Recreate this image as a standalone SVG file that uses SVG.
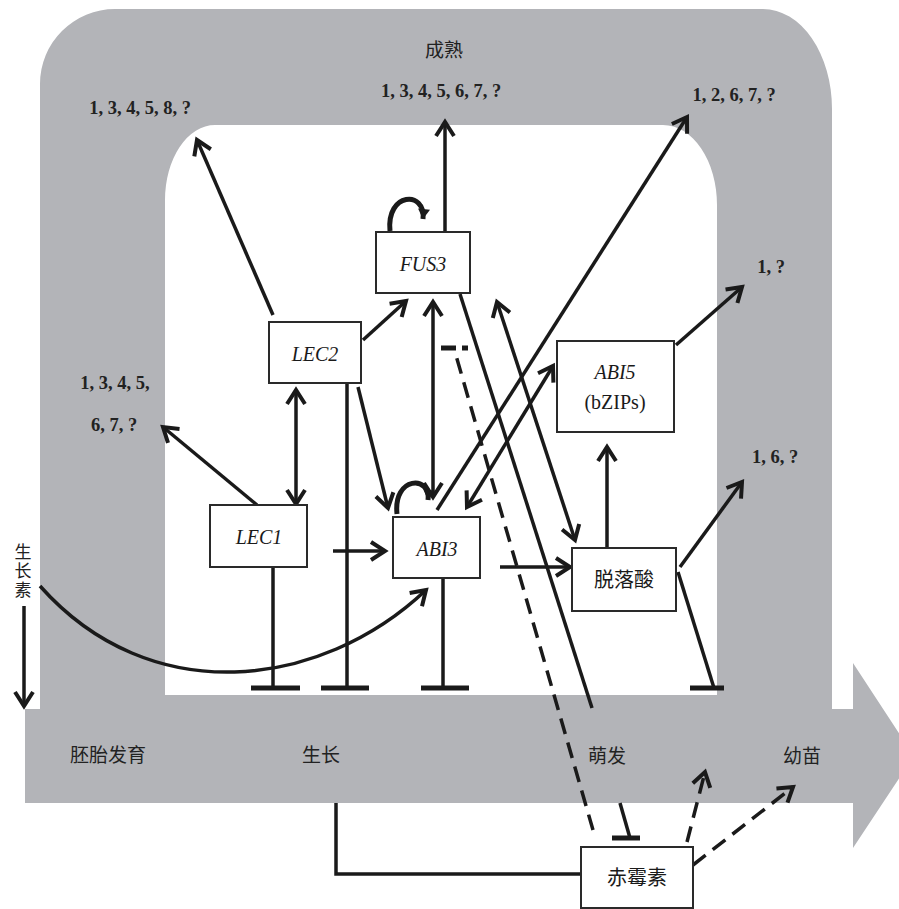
<svg xmlns="http://www.w3.org/2000/svg" width="899" height="909" viewBox="0 0 899 909">
<style>
.band{fill:#b3b4b8;fill-rule:evenodd}
.box{fill:#fff;stroke:#2a2a2a;stroke-width:2}
.ln{fill:none;stroke:#1a1a1a;stroke-width:3.5}
.dash{fill:none;stroke:#1a1a1a;stroke-width:3.5;stroke-dasharray:16 9}
.bar{fill:none;stroke:#1a1a1a;stroke-width:5}
.loop{fill:none;stroke:#1a1a1a;stroke-width:5}
.num{font-family:"Liberation Serif","Times New Roman",serif;font-weight:bold;font-size:18.5px;fill:#222}
.gene{font-family:"Liberation Serif","Times New Roman",serif;font-style:italic;font-size:20px;fill:#1a1a1a}
.rom{font-family:"Liberation Serif","Times New Roman",serif;font-size:20px;fill:#1a1a1a}
.cn{font-family:"Noto Sans CJK SC","Noto Sans",sans-serif;font-size:19px;fill:#222}
.cnv{font-family:"Noto Sans CJK SC","Noto Sans",sans-serif;font-size:17px;fill:#222;writing-mode:vertical-rl;letter-spacing:2px}
.cnb{font-family:"Noto Sans CJK SC","Noto Sans",sans-serif;font-size:20px;fill:#1a1a1a}
</style>
<defs>
<marker id="ah" markerUnits="userSpaceOnUse" markerWidth="26" markerHeight="26" viewBox="0 0 26 26" refX="20" refY="12" orient="auto-start-reverse">
<path d="M6,3 L20,12 L6,21" fill="none" stroke="#1a1a1a" stroke-width="4" stroke-linejoin="miter"/>
</marker>
<marker id="lh" markerUnits="userSpaceOnUse" markerWidth="14" markerHeight="14" viewBox="0 0 14 14" refX="12" refY="7" orient="auto">
<path d="M2,1 L12,7 L2,13 Z" fill="#1a1a1a"/>
</marker>
</defs>

<path class="band" d="M25,709 L40,709 L40,84 A75,75 0 0 1 115,9 L763,9 A69,100 0 0 1 832,109 L832,709 L853,709 L853,663 L914,756 L853,848 L853,803 L25,803 Z M165,695 L717,695 L717,205 A54,80 0 0 0 663,125 L215,125 A50,75 0 0 0 165,200 Z"/>

<g id="stage-labels">
<text class="cn" x="444" y="57" text-anchor="middle">成熟</text>
<text class="cn" x="108" y="762" text-anchor="middle">胚胎发育</text>
<text class="cn" x="321" y="762" text-anchor="middle">生长</text>
<text class="cn" x="607" y="763" text-anchor="middle">萌发</text>
<text class="cn" x="802" y="763" text-anchor="middle">幼苗</text>
<text class="cnv" x="23" y="543">生长素</text>
</g>

<g id="target-labels">
<text class="num" x="140" y="114" text-anchor="middle">1, 3, 4, 5, 8, ?</text>
<text class="num" x="441" y="97" text-anchor="middle">1, 3, 4, 5, 6, 7, ?</text>
<text class="num" x="734" y="101" text-anchor="middle">1, 2, 6, 7, ?</text>
<text class="num" x="771" y="273" text-anchor="middle">1, ?</text>
<text class="num" x="115" y="389" text-anchor="middle">1, 3, 4, 5,</text>
<text class="num" x="114" y="431" text-anchor="middle">6, 7, ?</text>
<text class="num" x="775" y="463" text-anchor="middle">1, 6, ?</text>
</g>

<g id="connectors">
<path class="ln" d="M273,315 L197,140" marker-end="url(#ah)"/>
<path class="ln" d="M445,232 L445,122" marker-end="url(#ah)"/>
<path class="ln" d="M437,510 L687,117" marker-end="url(#ah)"/>
<path class="ln" d="M676,345 L742,287" marker-end="url(#ah)"/>
<path class="ln" d="M680,567 L742,482" marker-end="url(#ah)"/>
<path class="ln" d="M257,505 L163,427" marker-end="url(#ah)"/>
<path class="ln" d="M296,390 L296,504" marker-start="url(#ah)" marker-end="url(#ah)"/>
<path class="ln" d="M363,340 L406,301" marker-end="url(#ah)"/>
<path class="ln" d="M358,387 L388,508" marker-end="url(#ah)"/>
<path class="ln" d="M433,302 L433,497" marker-start="url(#ah)" marker-end="url(#ah)"/>
<path class="ln" d="M467,507 L553,366" marker-start="url(#ah)" marker-end="url(#ah)"/>
<path class="ln" d="M497,302 L575,540" marker-start="url(#ah)" marker-end="url(#ah)"/>
<path class="ln" d="M500,567 L570,567" marker-end="url(#ah)"/>
<path class="ln" d="M607,548 L607,447" marker-end="url(#ah)"/>
<path class="ln" d="M333,551 L385,551" marker-end="url(#ah)"/>
<path class="ln" d="M460,294 L592,708"/>
<path class="ln" d="M40,586 C150,710 320,690 426,590" marker-end="url(#ah)"/>
<path class="ln" d="M24,606 L24,706" marker-end="url(#ah)"/>
<path class="loop" d="M390,231 C386,192 426,190 423,219" marker-end="url(#lh)"/>
<path class="loop" d="M397,514 C393,476 431,475 428,500" marker-end="url(#lh)"/>
<path class="ln" d="M273,567 L273,688"/>
<path class="bar" d="M251,688 L300,688"/>
<path class="ln" d="M347,383 L347,688"/>
<path class="bar" d="M321,688 L369,688"/>
<path class="ln" d="M443,578 L443,688"/>
<path class="bar" d="M421,688 L469,688"/>
<path class="ln" d="M678,572 L714,688"/>
<path class="bar" d="M690,688 L724,688"/>
<path class="dash" d="M593,830 L455,352"/>
<path class="bar" d="M441,348 L456,348 M462,348 L468,348"/>
<path class="ln" d="M620,803 L630,838"/>
<path class="bar" d="M612,838 L640,838"/>
<path class="ln" d="M336,803 L336,874 L581,874"/>
<path class="dash" d="M687,842 L705,772" marker-end="url(#ah)"/>
<path class="dash" d="M693,865 L793,787" marker-end="url(#ah)"/>
</g>

<g id="FUS3">
<rect class="box" x="376" y="232" width="94" height="61"/>
<text class="gene" x="423" y="271" text-anchor="middle">FUS3</text>
</g>
<g id="LEC2">
<rect class="box" x="269" y="322" width="92" height="61"/>
<text class="gene" x="315" y="361" text-anchor="middle">LEC2</text>
</g>
<g id="LEC1">
<rect class="box" x="210" y="505" width="97" height="62"/>
<text class="gene" x="259" y="544" text-anchor="middle">LEC1</text>
</g>
<g id="ABI3">
<rect class="box" x="393" y="517" width="87" height="61"/>
<text class="gene" x="437" y="556" text-anchor="middle">ABI3</text>
</g>
<g id="ABI5">
<rect class="box" x="557" y="341" width="117" height="91"/>
<text class="gene" x="615" y="379" text-anchor="middle">ABI5</text>
<text class="rom" x="615" y="409" text-anchor="middle">(bZIPs)</text>
</g>
<g id="ABA">
<rect class="box" x="572" y="548" width="104" height="63"/>
<text class="cnb" x="624" y="587" text-anchor="middle">脱落酸</text>
</g>
<g id="GA">
<rect class="box" x="581" y="847" width="112" height="61"/>
<text class="cnb" x="637" y="885" text-anchor="middle">赤霉素</text>
</g>
</svg>
